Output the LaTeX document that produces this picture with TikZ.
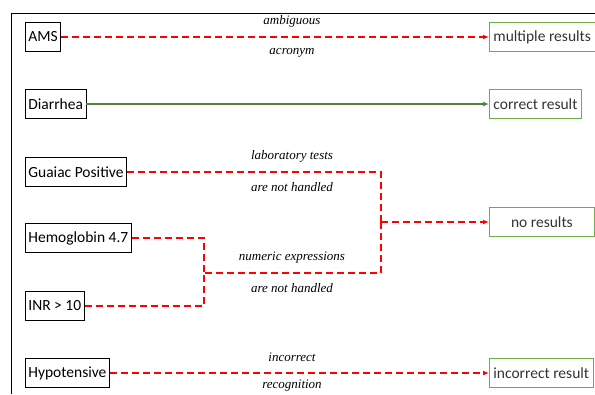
\documentclass[tikz,border=0pt]{standalone}
\usepackage{fontspec}
\setmainfont{Liberation Serif}
\newfontfamily\boxfont{Carlito}
\usetikzlibrary{arrows.meta}

\definecolor{okgreen}{RGB}{84,130,53}
\definecolor{boxgreen}{RGB}{112,173,71}

\begin{document}
\begin{tikzpicture}[x=1pt,y=-1pt,line width=2pt,>={Latex[length=6pt,width=5pt]},
  term/.style={draw=black,line width=0.8pt,anchor=west,minimum height=29pt,inner xsep=3pt,
    font=\boxfont\fontsize{15.5}{17}\selectfont},
  res/.style={draw=boxgreen,line width=0.8pt,anchor=west,minimum height=29pt,inner xsep=4pt,
    text=black!80,font=\boxfont\fontsize{15.5}{17}\selectfont},
  fail/.style={red,dash pattern=on 7pt off 4pt},
  note/.style={font=\itshape\fontsize{13}{15}\selectfont}]
  \useasboundingbox (0,0) rectangle (595,394);
  % frame
  \draw[line width=1pt] (11,394) -- (11,13) -- (595,13);
  % terms
  \node[term] (ams) at (25,37) {AMS};
  \node[term] (diar) at (25,104) {Diarrhea};
  \node[term] (guaiac) at (25,172) {Guaiac Positive};
  \node[term] (hemo) at (25,238) {Hemoglobin 4.7};
  \node[term] (inr) at (25,306) {INR > 10};
  \node[term] (hypo) at (25,373) {Hypotensive};
  % results
  \node[res] (multi) at (489,37) {multiple results};
  \node[res] (correct) at (489,104) {correct result};
  \node[res,minimum width=105pt] (nores) at (489,222) {no results};
  \node[res] (wrong) at (489,373) {incorrect result};
  % junctions
  \coordinate (labj) at (381,222);
  \coordinate (numj) at (204,273);
  % connectors
  \draw[fail,->] (ams) -- (multi);
  \draw[okgreen,->] (diar) -- (correct);
  \draw[fail] (guaiac) -| (labj);
  \draw[fail] (labj) |- (numj);
  \draw[fail] (hemo) -| (numj);
  \draw[fail] (inr) -| (numj);
  \draw[fail,->] (labj) -- (nores);
  \draw[fail,->] (hypo) -- (wrong);
  % labels
  \node[note] (amb) at (292,21) {ambiguous};
  \node[note] (acr) at (292,53) {acronym};
  \node[note] (labt) at (292,156) {laboratory tests};
  \node[note] (labn) at (292,187) {are not handled};
  \node[note] (nume) at (292,258) {numeric expressions};
  \node[note] (numn) at (292,288) {are not handled};
  \node[note] (inc) at (292,357) {incorrect};
  \node[note] (rec) at (292,386) {recognition};
\end{tikzpicture}
\end{document}
